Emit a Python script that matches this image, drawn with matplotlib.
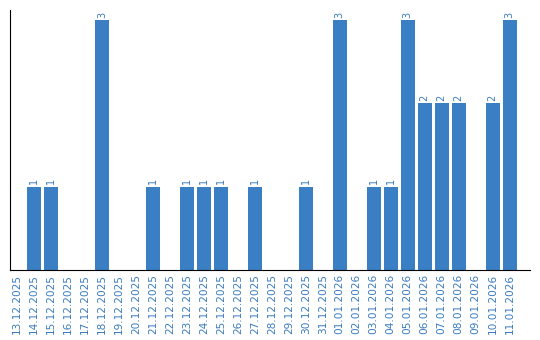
import matplotlib
matplotlib.use('Agg')
import matplotlib.pyplot as plt
import numpy as np

dates = ['13.12.2025', '14.12.2025', '15.12.2025', '16.12.2025', '17.12.2025',
         '18.12.2025', '19.12.2025', '20.12.2025', '21.12.2025', '22.12.2025',
         '23.12.2025', '24.12.2025', '25.12.2025', '26.12.2025', '27.12.2025',
         '28.12.2025', '29.12.2025', '30.12.2025', '31.12.2025', '01.01.2026',
         '02.01.2026', '03.01.2026', '04.01.2026', '05.01.2026', '06.01.2026',
         '07.01.2026', '08.01.2026', '09.01.2026', '10.01.2026', '11.01.2026']
counts = [0, 1, 1, 0, 0, 3, 0, 0, 1, 0,
          1, 1, 1, 0, 1, 0, 0, 1, 0, 3,
          0, 1, 1, 3, 2, 2, 2, 0, 2, 3]

bar_color = '#3a7ec3'
text_color = '#3a7bbf'

fig = plt.figure(figsize=(5.4, 3.4), dpi=100)
ax = fig.add_axes([10/540, 70/340, 520/540, 260/340])

x = np.arange(len(dates))
ax.bar(x, counts, width=0.82, color=bar_color)
for xi, c in zip(x, counts):
	if c > 0:
		ax.text(xi, c + 0.03, str(c), rotation=90, ha='center', va='bottom',
				fontsize=7, color=text_color)

ax.set_xlim(-0.41, 30.2)
ax.set_ylim(0, 3.12)
ax.set_xticks(x)
ax.set_xticklabels(dates, rotation=90, fontsize=7.6, color=text_color)
ax.tick_params(axis='x', length=0, pad=3)
ax.set_yticks([])
ax.spines['top'].set_visible(False)
ax.spines['right'].set_visible(False)

fig.savefig('out.png', dpi=100)
